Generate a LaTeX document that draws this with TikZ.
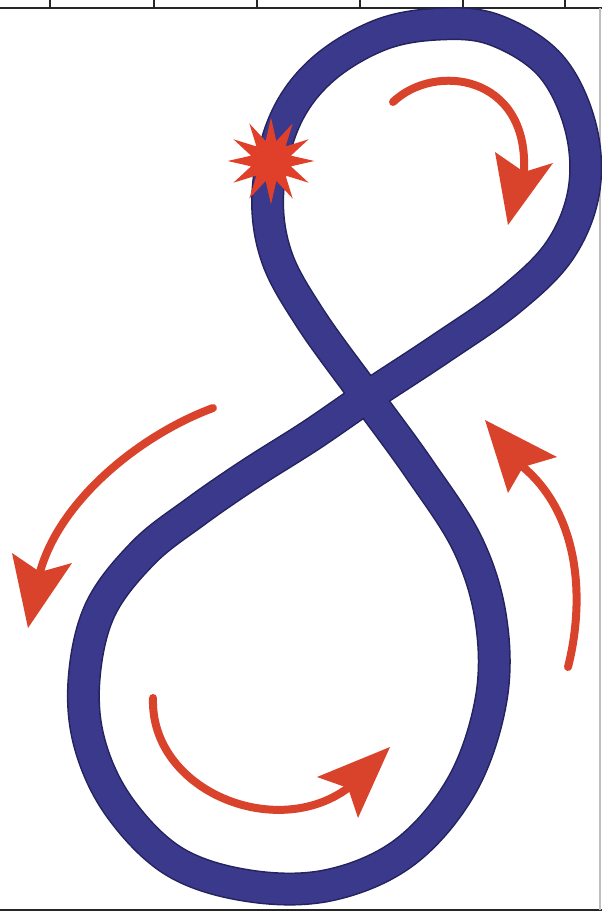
\documentclass[tikz,border=0pt]{standalone}
\usetikzlibrary{shapes.geometric}
\definecolor{bandblue}{HTML}{3A398C}
\definecolor{banddark}{HTML}{24235E}
\definecolor{arrred}{HTML}{D9432B}
\definecolor{starred}{HTML}{E0402A}
\tikzset{
  shaft/.style={draw=arrred, line width=6pt, line cap=round, line join=round},
  headfill/.style={fill=arrred},
  frame/.style={draw=black!85, line width=1.6pt},
  tick/.style={draw=black!85, line width=1.2pt}
}
\begin{document}
\begin{tikzpicture}[x=0.75pt,y=-0.75pt]
\useasboundingbox (0,0) rectangle (602,913);
\fill[white] (0,0) rectangle (602,913);
% frame lines
\draw[frame] (0,8) -- (602,8);
\draw[frame] (0,910) -- (602,910);
\draw[draw=black!25, line width=0.8pt] (600,8) -- (600,910);
\foreach \tx in {50,154,257,360,463,565} {
  \draw[tick] (\tx,0) -- (\tx,8);
}
% figure eight band
\def\eightpath{plot[smooth cycle, tension=0.6] coordinates {
 (367,397) (440,349) (510,300) (560,250) (584,190) (580,125) (550,65)
 (495,30) (440,24) (380,35) (322,70) (285,120) (268,190) (276,255) (310,318)
 (367,397) (420,470) (468,545) (491,620) (491,700) (462,785) (405,852)
 (330,885) (250,886) (175,862) (120,808) (90,745) (84,680) (100,610)
 (143,553) (195,512) (250,474) (310,436)}}
\draw[banddark, line width=24.75pt, line join=round] \eightpath;
\draw[bandblue, line width=22.5pt, line join=round] \eightpath;
% star
\node (star) [star, star points=12, star point ratio=2.1, minimum size=65pt,
  inner sep=0pt, fill=starred, draw=none] at (271,161) {};
% top-right arrow
\draw[shaft] (393,102) .. controls (435,62) and (528,75) .. (524,170);
\fill[headfill] (495,152) -- (508,225) -- (553,163) -- (524,172) -- cycle;
% left arrow
\draw[shaft] (213,408) .. controls (140,435) and (60,500) .. (40,572);
\fill[headfill] (12,553) -- (28,628) -- (72,563) -- (40,572) -- cycle;
% right arrow
\draw[shaft] (568,667) .. controls (585,600) and (580,515) .. (523,467);
\fill[headfill] (485,420) -- (557,457) -- (523,467) -- (508,493) -- cycle;
% bottom arrow
\draw[shaft] (153,698) .. controls (150,790) and (275,842) .. (348,788);
\fill[headfill] (390,747) -- (317,777) -- (348,788) -- (358,818) -- cycle;
\end{tikzpicture}
\end{document}
